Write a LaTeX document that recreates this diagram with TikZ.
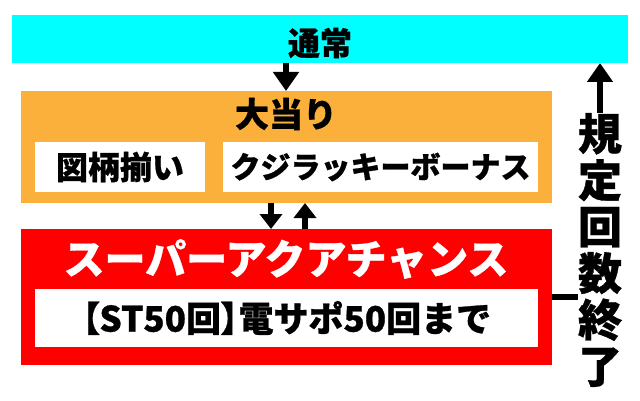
\documentclass[tikz,border=0pt]{standalone}
\usepackage{fontspec}
\newfontfamily\cjk{Noto Sans CJK JP}[BoldFeatures={FakeBold=0.8}]
\newcommand{\tightbr}[1]{{\addfontfeatures{RawFeature=+palt}#1}}
\usetikzlibrary{arrows.meta,calc}
\definecolor{cyanbar}{RGB}{0,255,255}
\definecolor{orangebox}{RGB}{251,176,59}
\definecolor{redbox}{RGB}{255,0,0}
\begin{document}
\begin{tikzpicture}[x=1pt,y=-1pt,
  panel/.style={inner sep=0pt, outer sep=0pt, anchor=north west},
  lbl/.style={font=\cjk\bfseries\fontsize{#1}{#1}\selectfont, inner sep=0pt},
  arr/.style={line width=6pt, -{Triangle[width=25pt,length=19pt]}},
  arrs/.style={line width=6pt, -{Triangle[width=22pt,length=15pt]}},
  link/.style={line width=6pt}]
\useasboundingbox (0,0) rectangle (640,401);
% boxes
\node[panel, fill=cyanbar, minimum width=616pt, minimum height=48pt] (normal) at (12,15) {};
\node[panel, fill=orangebox, minimum width=531pt, minimum height=112pt] (hit) at (21,91) {};
\node[panel, fill=white, minimum width=170pt, minimum height=50pt, lbl=32] (zugara) at (35,142) {図柄揃い};
\node[panel, fill=white, minimum width=315pt, minimum height=50pt, lbl=30] (kujira) at (223,142) {クジラッキーボーナス};
\node[panel, fill=redbox, minimum width=531pt, minimum height=136pt] (sac) at (21,229) {};
\node[panel, fill=white, minimum width=503pt, minimum height=58pt, lbl=35] (st) at (35,289) {\tightbr{【}ST50回\tightbr{】}電サポ50回まで};
% titles
\node[lbl=32] (normallbl) at (320,43) {通常};
\node[lbl=34] (hitlbl) at (286,114) {大当り};
\node[lbl=41, text=white] (saclbl) at (286,259) {スーパーアクアチャンス};
\node[lbl=44, align=center, font=\cjk\bfseries\fontsize{44}{46.5}\selectfont] (ret) at (600,250) {規\\定\\回\\数\\終\\了};
% connectors
\coordinate (dnx) at (271,0);
\coordinate (upx) at (305,0);
\draw[arr] (normal.south -| hitlbl) -- (hit.north -| hitlbl);
\draw[arrs] (hit.south -| dnx) -- (sac.north -| dnx);
\draw[arrs] (sac.north -| upx) -- (hit.south -| upx);
\draw[link] (sac.east) -- (ret.west |- sac.east);
\draw[arr] (ret.north) -- (normal.south -| ret.north);
\end{tikzpicture}
\end{document}
